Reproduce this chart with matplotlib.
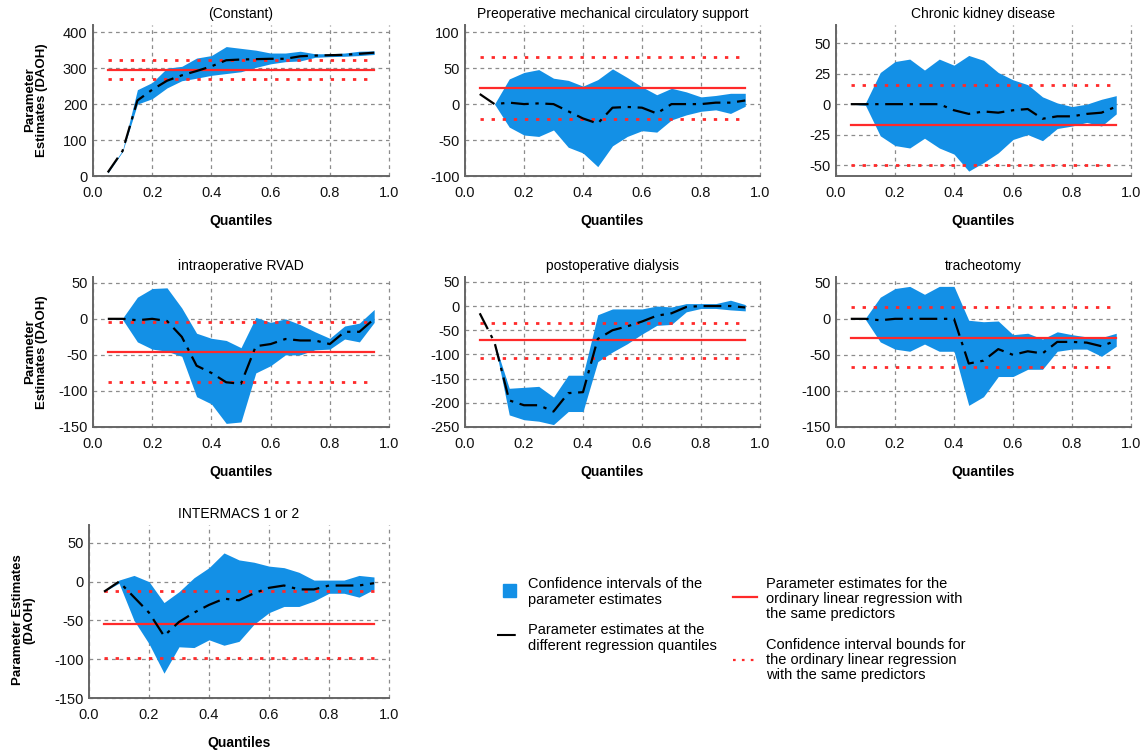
import numpy as np
import matplotlib.pyplot as plt
from matplotlib.lines import Line2D
from matplotlib.patches import Rectangle

plt.rcParams['font.family'] = ['Liberation Sans', 'DejaVu Sans']
plt.rcParams['axes.unicode_minus'] = False

quantiles = np.round(np.arange(0.05, 0.951, 0.05), 2)

titles = ["(Constant)", "Preoperative mechanical circulatory support",
          "Chronic kidney disease", "intraoperative RVAD",
          "postoperative dialysis", "tracheotomy", "INTERMACS 1 or 2"]

# quantile regression estimates and their CI
est_const = [10, 70, 210, 240, 265, 280, 292, 305, 322, 324, 325, 326, 326, 333, 335, 336, 337, 340, 343]
up_const = [12, 72, 240, 260, 300, 305, 328, 335, 360, 355, 350, 342, 342, 347, 340, 340, 342, 347, 348]
lo_const = [8, 68, 200, 215, 245, 265, 272, 280, 285, 290, 302, 312, 318, 320, 330, 332, 333, 335, 338]

est_pmcs = [14, 0, 2, 0, 1, 0, -10, -20, -27, -5, -4, -5, -13, 0, 0, 0, 2, 2, 5]
up_pmcs = [14, 0, 35, 44, 48, 36, 33, 25, 34, 49, 37, 24, 13, 22, 17, 10, 12, 15, 15]
lo_pmcs = [14, 0, -32, -43, -45, -36, -60, -68, -87, -58, -45, -37, -39, -22, -15, -10, -8, -13, -3]

est_ckd = [0, 0, 0, 0, 0, 0, 0, -5, -8, -6, -7, -5, -4, -12, -10, -10, -8, -7, -2]
up_ckd = [0, 1, 26, 35, 37, 28, 37, 32, 40, 36, 26, 20, 16, 6, 1, -2, 0, 4, 7]
lo_ckd = [0, -1, -26, -34, -36, -28, -36, -41, -55, -48, -40, -29, -25, -30, -20, -18, -15, -18, -8]

est_rvad = [0, 0, -2, 0, -3, -25, -65, -75, -88, -90, -38, -35, -28, -30, -30, -35, -18, -18, 0]
up_rvad = [0, 1, 30, 42, 43, 15, -20, -27, -30, -40, 2, -5, 0, -8, -18, -27, -10, -6, 13]
lo_rvad = [0, -1, -32, -42, -45, -52, -108, -118, -145, -143, -75, -65, -50, -50, -43, -42, -28, -32, -5]

est_dial = [-15, -75, -195, -205, -205, -218, -180, -178, -68, -50, -42, -32, -20, -15, -2, 0, 0, 0, -3]
up_dial = [-15, -75, -170, -168, -166, -188, -143, -143, -18, -6, -6, -6, 0, -2, 5, 5, 5, 12, 3]
lo_dial = [-15, -75, -225, -235, -238, -245, -218, -218, -115, -95, -78, -58, -40, -38, -12, -5, -5, -8, -10]

est_trach = [0, 0, -2, 0, 0, 0, 0, 0, -62, -58, -42, -50, -45, -48, -32, -32, -33, -38, -30]
up_trach = [0, 1, 30, 42, 45, 34, 45, 45, -2, -4, -3, -22, -20, -28, -18, -22, -25, -26, -20]
lo_trach = [0, -1, -32, -42, -45, -35, -45, -45, -120, -108, -80, -80, -70, -70, -45, -42, -42, -52, -38]

est_inter = [-13, 0, -20, -40, -70, -52, -40, -30, -22, -24, -15, -8, -5, -10, -10, -5, -5, -5, -2]
up_inter = [-13, 2, 8, 0, -27, -13, 5, 18, 37, 28, 25, 20, 18, 12, 2, 2, 2, 8, 6]
lo_inter = [-13, -2, -50, -80, -118, -84, -85, -75, -82, -77, -55, -40, -32, -32, -25, -15, -15, -20, -10]

# ordinary linear regression: estimate, upper and lower bound
ols_est = [295, 22, -17, -46, -70, -26, -55]
ols_up = [322, 65, 16, -4, -35, 16, -12]
ols_lo = [269, -21, -50, -87, -107, -67, -98]

estimates = [est_const, est_pmcs, est_ckd, est_rvad, est_dial, est_trach, est_inter]
uppers = [up_const, up_pmcs, up_ckd, up_rvad, up_dial, up_trach, up_inter]
lowers = [lo_const, lo_pmcs, lo_ckd, lo_rvad, lo_dial, lo_trach, lo_inter]

yticks = [np.arange(0, 401, 100), np.arange(-100, 101, 50), np.arange(-50, 51, 25),
          np.arange(-150, 51, 50), np.arange(-250, 51, 50), np.arange(-150, 51, 50),
          np.arange(-150, 51, 50)]
ylims = [(0, 420), (-100, 110), (-59, 65), (-150, 58), (-250, 60), (-150, 58), (-150, 73)]

W, H = 1142, 751
def px_box(l, t, r, b):
    return [l / W, 1 - b / H, (r - l) / W, (b - t) / H]

boxes = [px_box(93, 25, 389, 176), px_box(465, 25, 760, 176), px_box(836, 25, 1131, 176),
         px_box(93, 277, 389, 427), px_box(465, 277, 760, 427), px_box(836, 277, 1131, 427),
         px_box(89, 525, 389, 698)]

BLUE = '#1390e6'
RED = '#ff2a2a'

fig = plt.figure(figsize=(W / 100, H / 100), dpi=100)

for i in range(7):
    ax = fig.add_axes(boxes[i])
    ax.fill_between(quantiles, lowers[i], uppers[i], color=BLUE, lw=0, zorder=2)
    ax.plot(quantiles, estimates[i], color='black', lw=1.6, dashes=(8, 3, 1.5, 3), zorder=4)
    ax.plot([quantiles[0], quantiles[-1]], [ols_est[i]] * 2, color=RED, lw=1.6, zorder=3)
    for b in (ols_up[i], ols_lo[i]):
        ax.plot([quantiles[0], quantiles[-1]], [b, b], color=RED, lw=2,
                linestyle=(0, (1.2, 2.8)), zorder=3)
    ax.set_xlim(0, 1.0)
    ax.set_ylim(*ylims[i])
    ax.set_xticks(np.arange(0, 1.01, 0.2))
    ax.set_xticklabels([f"{v:.1f}" for v in np.arange(0, 1.01, 0.2)])
    ax.set_yticks(yticks[i])
    ax.tick_params(length=0, labelsize=10.5, colors='#111111')
    ax.tick_params(axis='y', pad=4)
    ax.tick_params(axis='x', pad=7)
    ax.grid(True, color='#8c8c8c', linestyle=(0, (3, 3)), lw=0.9, zorder=1)
    for gl in ax.get_xgridlines() + ax.get_ygridlines():
        gl.set_clip_on(False)
    ax.spines['top'].set_visible(False)
    ax.spines['right'].set_visible(False)
    for s in ('left', 'bottom'):
        ax.spines[s].set_color('#666666')
        ax.spines[s].set_linewidth(1.4)
    ax.set_title(titles[i], fontsize=10, pad=5)
    ax.set_xlabel("Quantiles", fontsize=10, fontweight='bold', labelpad=10)

# y labels
for yc in (100, 352):
    fig.text(36 / W, 1 - yc / H, "Parameter\nEstimates (DAOH)", rotation=90,
             ha='center', va='center', fontsize=9.5, fontweight='bold', linespacing=0.95)
fig.text(24 / W, 1 - 620 / H, "Parameter Estimates\n(DAOH)", rotation=90,
         ha='center', va='center', fontsize=9.5, fontweight='bold', linespacing=0.95)

# legend
fs = 10.5
ls = 1.12
fig.add_artist(Rectangle((503 / W, 1 - 597 / H), 13 / W, 13 / H, color=BLUE,
                         transform=fig.transFigure))
fig.text(528 / W, 1 - 592 / H, "Confidence intervals of the\nparameter estimates",
         ha='left', va='center', fontsize=fs, linespacing=ls)
fig.add_artist(Line2D([497 / W, 520 / W], [1 - 635 / H] * 2, color='black', lw=1.5,
                      dashes=(9, 3, 1.5, 3), transform=fig.transFigure))
fig.text(528 / W, 1 - 638 / H, "Parameter estimates at the\ndifferent regression quantiles",
         ha='left', va='center', fontsize=fs, linespacing=ls)
fig.add_artist(Line2D([733 / W, 757 / W], [1 - 597 / H] * 2, color=RED, lw=1.6,
                      transform=fig.transFigure))
fig.text(766 / W, 1 - 599 / H, "Parameter estimates for the\nordinary linear regression with\nthe same predictors",
         ha='left', va='center', fontsize=fs, linespacing=ls)
fig.add_artist(Line2D([733 / W, 757 / W], [1 - 660 / H] * 2, color=RED, lw=1.6,
                      linestyle=(0, (1.2, 2.8)), transform=fig.transFigure))
fig.text(766 / W, 1 - 660 / H, "Confidence interval bounds for\nthe ordinary linear regression\nwith the same predictors",
         ha='left', va='center', fontsize=fs, linespacing=ls)

fig.savefig("out.png", dpi=100)
